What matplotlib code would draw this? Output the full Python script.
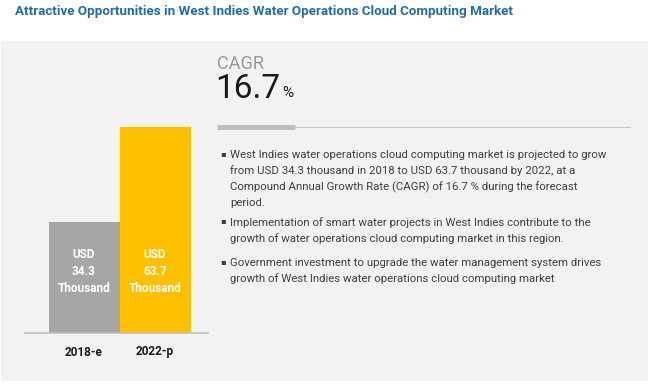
import matplotlib
matplotlib.use("Agg")
import matplotlib.pyplot as plt
from matplotlib.patches import Rectangle

years = ["2018-e", "2022-p"]
values = [34.3, 63.7]
bar_colors = ["#a6a6a6", "#ffc000"]
cagr = 16.7
title = "Attractive Opportunities in West Indies Water Operations Cloud Computing Market"
bullets = [
    "West Indies water operations cloud computing market is projected to grow\n"
    "from USD 34.3 thousand in 2018 to USD 63.7 thousand by 2022, at a\n"
    "Compound Annual Growth Rate (CAGR) of 16.7 % during the forecast\n"
    "period.",
    "Implementation of smart water projects in West Indies contribute to the\n"
    "growth of water operations cloud computing market in this region.",
    "Government investment to upgrade the water management system drives\n"
    "growth of West Indies water operations cloud computing market",
]

W, H = 650, 384
fig = plt.figure(figsize=(W / 100, H / 100), dpi=100)
fig.patch.set_facecolor("white")

def fx(x):
    return x / W

def fy(y):
    return 1 - y / H

font = ["Roboto", "DejaVu Sans"]

# background panel
fig.patches.append(Rectangle((fx(1), fy(381)), fx(647), (381 - 41) / H,
                             transform=fig.transFigure, facecolor="#f2f2f2",
                             edgecolor="none", zorder=0))

fig.text(fx(15), fy(11), title, color="#1f6cb5", fontsize=9.6, fontweight="bold",
         family=font, va="center", ha="left")

# bar chart
px_per_unit = (333 - 127) / 63.7
ymax = 70
ax_top = 333 - ymax * px_per_unit
ax = fig.add_axes([fx(25), fy(333), fx(208 - 25), (333 - ax_top) / H])
ax.set_zorder(2)
ax.set_facecolor("none")
ax.bar(range(len(years)), values, width=1.0, color=bar_colors, zorder=2)
ax.set_xlim(-0.831, 1.746)
ax.set_ylim(0, ymax)
for s in ["top", "right", "left"]:
    ax.spines[s].set_visible(False)
ax.spines["bottom"].set_color("#bfbfbf")
ax.spines["bottom"].set_linewidth(1.2)
ax.set_yticks([])
ax.set_xticks(range(len(years)))
ax.set_xticklabels(years, fontsize=8.5, fontweight="bold", color="#1a1a1a",
                   family=font)
ax.tick_params(axis="x", length=0, pad=9)
for i, v in enumerate(values):
    ax.text(i, min(values) * 0.55 + 0.2, f"USD\n{v}\nThousand", ha="center",
            va="center", color="white", fontsize=8.5, fontweight="bold",
            family=font, linespacing=1.4, zorder=3)

# CAGR block
fig.text(fx(217), fy(64), "CAGR", color="#999999", fontsize=13, family=font,
         va="center", ha="left")
fig.text(fx(215), fy(89), f"{cagr}", color="#1a1a1a", fontsize=24,
         family=font, va="center", ha="left")
fig.text(fx(282), fy(93), "%", color="#1a1a1a", fontsize=11, family=font,
         va="center", ha="left")

fig.add_artist(plt.Line2D([fx(295), fx(630)], [fy(127), fy(127)],
                          transform=fig.transFigure, color="#c8c8c8", lw=0.8))
fig.add_artist(plt.Line2D([fx(217), fx(295)], [fy(127), fy(127)],
                          transform=fig.transFigure, color="#bdbdbd", lw=3.5,
                          solid_capstyle="butt"))

# bullets
starts = [154, 221, 262]
for y0, b in zip(starts, bullets):
    fig.text(fx(220), fy(y0), "\u25aa", color="#404040", fontsize=6,
             va="center", ha="left")
    fig.text(fx(230), fy(y0 - 4), b, color="#404040", fontsize=8.2, family=font,
             va="top", ha="left", linespacing=1.6)

fig.savefig("out.png", dpi=100)
